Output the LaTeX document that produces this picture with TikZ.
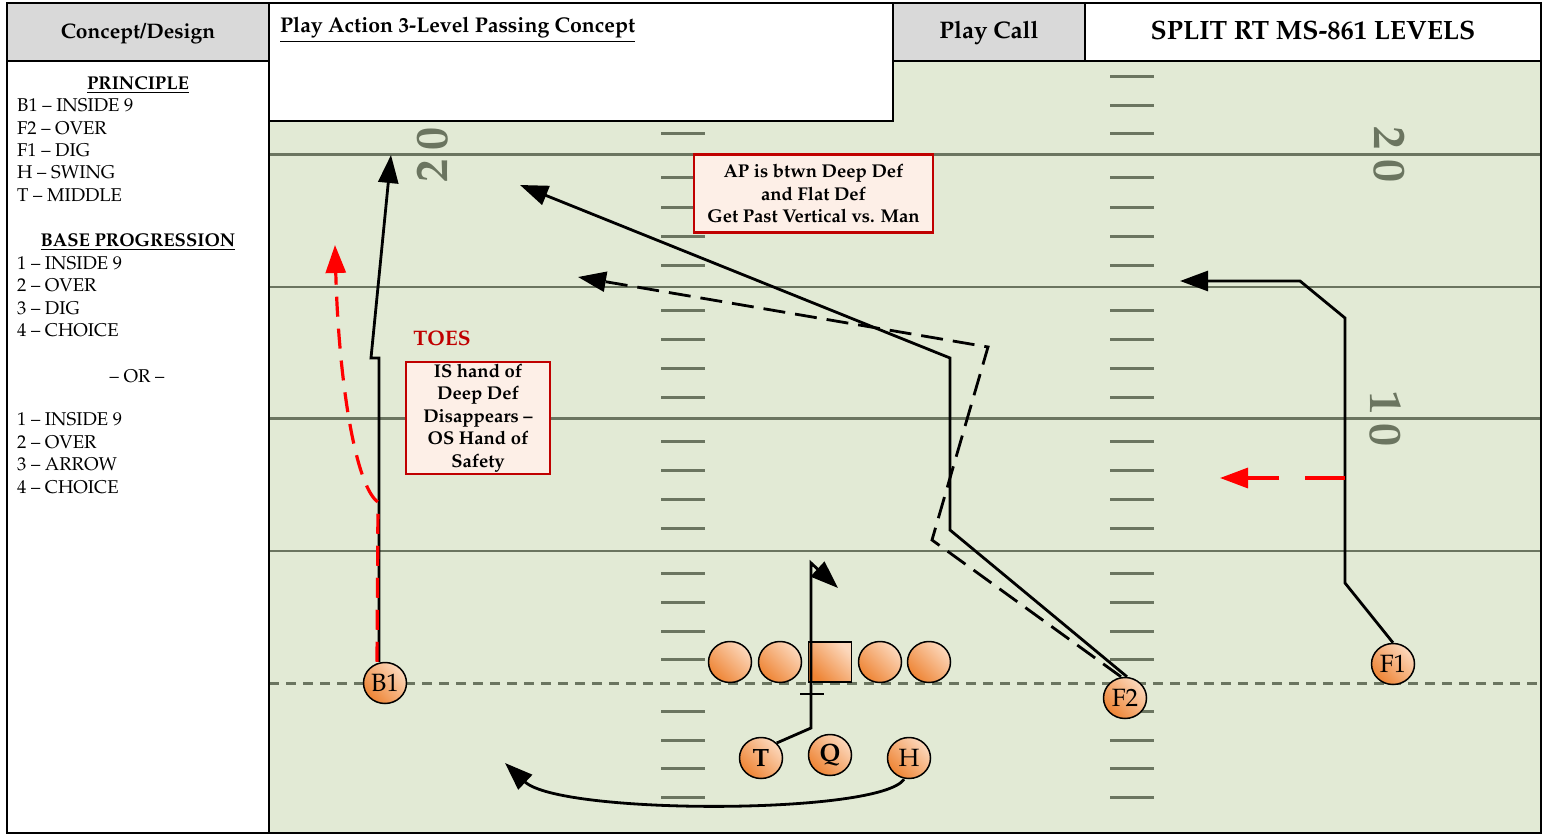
\documentclass[tikz,border=0pt]{standalone}
\usepackage[T1]{fontenc}
\usepackage{mathpazo}
\usepackage{xcolor}
\usetikzlibrary{arrows.meta,shapes.geometric}

\definecolor{fieldgreen}{RGB}{226,234,213}
\definecolor{linegray}{RGB}{107,117,96}
\definecolor{headgray}{RGB}{217,217,217}
\definecolor{boxred}{RGB}{192,0,0}
\definecolor{boxfill}{RGB}{253,239,231}
\definecolor{playred}{RGB}{255,0,0}
\definecolor{orangelight}{RGB}{252,216,188}
\definecolor{orangedark}{RGB}{238,132,52}

\tikzset{
  boxline/.style={draw=black, line width=2pt},
  hdr/.style={anchor=base, inner sep=0pt, font=\bfseries\fontsize{21}{25}\selectfont},
  sidehead/.style={anchor=base, inner sep=0pt, font=\bfseries\fontsize{18.5}{22}\selectfont},
  item/.style={anchor=base west, inner sep=0pt, font=\fontsize{18.5}{22}\selectfont},
  hashmark/.style={linegray, line width=3pt},
  yardnum/.style={text=linegray, inner sep=0pt, font=\bfseries\fontsize{46}{46}\selectfont},
  player/.style={ellipse, draw=black, line width=1.5pt, minimum width=43pt,
    minimum height=41pt, inner sep=0pt, top color=orangelight,
    bottom color=orangedark, shading angle=-45, font=\fontsize{25}{25}\selectfont},
  route/.style={draw=black, line width=2.8pt},
  dashroute/.style={route, dash pattern=on 22pt off 10pt},
  redroute/.style={draw=playred, line width=3.2pt, dash pattern=on 20pt off 12pt},
  arrowtip/.style={-{Triangle[length=28pt,width=20pt]}},
  notebox/.style={draw=boxred, line width=2.6pt, fill=boxfill, align=center,
    inner sep=0pt, font=\bfseries\fontsize{18.5}{22.4}\selectfont},
}

\begin{document}
\begin{tikzpicture}[x=1pt, y=-1pt]
  \useasboundingbox (0,0) rectangle (1544,834);
  \fill[white] (0,0) rectangle (1544,834);

  % field
  \fill[fieldgreen] (269,61) rectangle (1541,833);
  \foreach \y in {77,106,134,178,208,237,266,310,339,368,397,441,470,499,528,573,602,631,659,711,740,768,797} {
    \draw[hashmark] (661,\y) -- (705,\y);
    \draw[hashmark] (1110,\y) -- (1154,\y);
  }
  \foreach \y/\w in {155/3,287/2,418/3,551/2}
    \draw[linegray, line width=\w pt] (269,\y) -- (1541,\y);
  \node[yardnum, rotate=90] (num20l) at (432,155) {2\hspace{10pt}0};
  \node[yardnum, rotate=-90] (num20r) at (1390,155) {2\hspace{10pt}0};
  \node[yardnum, rotate=-90] (num10r) at (1386,419) {1\hspace{10pt}0};
  % line of scrimmage
  \draw[linegray, line width=3pt, dash pattern=on 10pt off 7pt] (269,683) -- (1541,683);
  \draw[boxline] (269,61) rectangle (1541,833);

  % header boxes
  \draw[boxline, fill=headgray] (7,3) rectangle (269,61);
  \draw[boxline] (7,61) rectangle (269,833);
  \draw[boxline, fill=white] (269,3) rectangle (893,121);
  \draw[boxline, fill=headgray] (893,3) rectangle (1085,61);
  \draw[boxline, fill=white] (1085,3) rectangle (1541,61);
  \node[hdr] (concept) at (138,39) {Concept/Design};
  \node[hdr, anchor=base west, font=\bfseries\fontsize{21.3}{25}\selectfont] (title) at (280,33) {\underline{Play Action 3-Level Passing Concept}};
  \node[hdr, font=\bfseries\fontsize{24}{28}\selectfont] (playcall) at (989,39) {Play Call};
  \node[hdr, font=\bfseries\fontsize{26.5}{30}\selectfont] (call) at (1313,40) {SPLIT RT MS-861 LEVELS};

  % left panel
  \node[sidehead] (principle) at (138,90) {\underline{PRINCIPLE}};
  \foreach \t [count=\i from 0] in {B1 -- INSIDE 9, F2 -- OVER, F1 -- DIG, H -- SWING, T -- MIDDLE}
    \node[item] (pr\i) at (17,112+22.3*\i) {\t};
  \node[sidehead] (base) at (138,247) {\underline{BASE PROGRESSION}};
  \foreach \t [count=\i from 0] in {1 -- INSIDE 9, 2 -- OVER, 3 -- DIG, 4 -- CHOICE}
    \node[item] (bp\i) at (17,269.5+22.3*\i) {\t};
  \node[item, anchor=base] (or) at (137,382) {-- OR --};
  \foreach \t [count=\i from 0] in {1 -- INSIDE 9, 2 -- OVER, 3 -- ARROW, 4 -- CHOICE}
    \node[item] (alt\i) at (17,425.5+22.5*\i) {\t};

  % notes
  \node[notebox, minimum width=239pt, minimum height=78pt] (apnote) at (813.5,193.5)
    {AP is btwn Deep Def\\and Flat Def\\Get Past Vertical vs. Man};
  \node[text=boxred, inner sep=0pt, font=\bfseries\fontsize{21}{21}\selectfont] (toes) at (442,338) {TOES};
  \node[notebox, minimum width=144pt, minimum height=112pt] (isnote) at (478,418)
    {IS hand of\\Deep Def\\Disappears --\\OS Hand of\\Safety};

  % players
  \foreach \n/\x in {lt/730,lg/780,rg/880,rt/929}
    \node[player] (\n) at (\x,662) {};
  \node[player, rectangle, minimum width=43pt, minimum height=40pt] (c) at (830,662) {};
  \node[player] (B1) at (385,683) {B1};
  \node[player] (F2) at (1125,698) {F2};
  \node[player] (F1) at (1393,664) {F1};
  \node[player] (T) at (761,758) {\textbf{T}};
  \node[player] (Q) at (830,755) {\textbf{Q}};
  \node[player] (H) at (909,758) {H};

  % routes
  \draw[route, arrowtip] ([xshift=-6pt]B1.north) -- (379,358) -- (371,358) -- (391,155);
  \draw[redroute, arrowtip] ([xshift=-8pt]B1.north) -- (378,502)
    .. controls (357,488) and (339,390) .. (335,245);
  \draw[route, arrowtip] ([xshift=2pt]F2.north) -- (950,530) -- (950,358) -- (520,185);
  \draw[dashroute, arrowtip] ([xshift=-4pt]F2.north) -- (932,540) -- (988,347) -- (578,277);
  \draw[route, arrowtip] (F1.north) -- (1345,583) -- (1345,318) -- (1300,281) -- (1180,281);
  \coordinate (f1alt) at (1345,478);
  \draw[redroute, dash pattern=on 40pt off 26pt, arrowtip] (f1alt) -- (1220,478);
  \draw[route, arrowtip] (T.north east) -- (811,728) -- (811,563) -- (838,588);
  \draw[route] (800,694) -- (824,694);
  \draw[route, arrowtip] ([xshift=-5pt]H.south) .. controls (880,815) and (560,815) .. (505,763);
\end{tikzpicture}
\end{document}
